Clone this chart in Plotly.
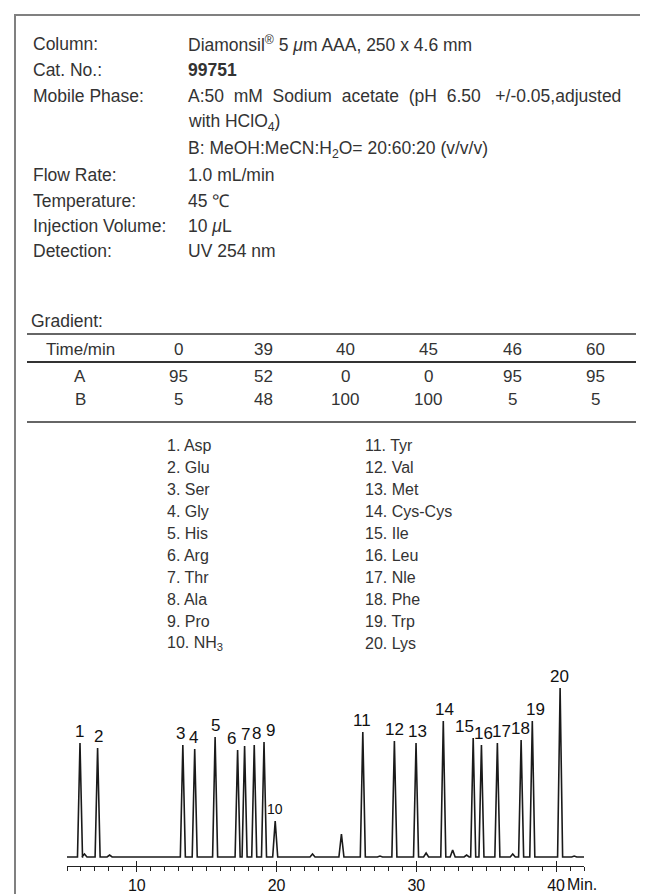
import plotly.graph_objects as go

# ---- method conditions ----
cond_labels = ['Column:', 'Cat. No.:', 'Mobile Phase:', '', '', 'Flow Rate:',
               'Temperature:', 'Injection Volume:', 'Detection:']
cond_values = ['Diamonsil<sup>®</sup> 5 <i>μ</i>m AAA, 250 x 4.6 mm',
               '<b>99751</b>',
               'A:50\u00a0 mM\u00a0 Sodium\u00a0 acetate\u00a0 (pH\u00a0 6.50\u00a0\u00a0 +/-0.05,adjusted',
               'with HClO<sub>4</sub>)',
               'B: MeOH:MeCN:H<sub>2</sub>O= 20:60:20 (v/v/v)',
               '1.0 mL/min',
               '45 ℃',
               '10 <i>μ</i>L',
               'UV 254 nm']

# ---- gradient table ----
grad_time = ['0', '39', '40', '45', '46', '60']
grad_a = ['95', '52', '0', '0', '95', '95']
grad_b = ['5', '48', '100', '100', '5', '5']

# ---- peak names ----
compounds = ['Asp', 'Glu', 'Ser', 'Gly', 'His', 'Arg', 'Thr', 'Ala', 'Pro', 'NH<sub>3</sub>',
             'Tyr', 'Val', 'Met', 'Cys-Cys', 'Ile', 'Leu', 'Nle', 'Phe', 'Trp', 'Lys']

# ---- chromatogram (retention time in min, height in arbitrary units) ----
peak_rt = [5.93, 7.19, 13.29, 14.14, 15.6, 17.21, 17.71, 18.4, 19.1, 19.9,
           26.17, 28.43, 29.98, 31.93, 34.07, 34.66, 35.8, 37.5, 38.3, 40.29]
peak_h = [114, 109, 112, 108, 120, 107, 111, 112, 115, 36,
          125, 116, 114, 136, 119, 112, 114, 117, 136, 169]
label_dx = [0, 1, -2, -1, 0, -6, 1, 2, 6, 0,
            -1, 0, 1, 1, -9, 2, 4, -1, 3, -1]
minor_rt = [6.25, 8.05, 22.57, 24.64, 27.4, 30.7, 32.6, 33.6, 36.9, 41.3]
minor_h = [3, 2, 3, 23, 1, 4, 7, 2, 3, 1]

W, H = 648, 894
FONT = 'Liberation Sans'
TXT = '#333333'


def px(x):
    return x / W


def py(y):
    return 1 - y / H


# build the trace as baseline -> apex -> baseline for each peak
half = 0.18
all_peaks = sorted(zip(peak_rt + minor_rt, peak_h + minor_h))
xs, ys = [5], [0]
for rt, h in all_peaks:
    xs += [rt - half, rt, rt + half]
    ys += [0, h, 0]
xs.append(42)
ys.append(0)

fig = go.Figure()
fig.add_trace(go.Scatter(x=xs, y=ys, mode='lines',
                         line=dict(color='#1a1a1a', width=1.6),
                         hoverinfo='skip', showlegend=False))
fig.add_trace(go.Scatter(x=[None], y=[None], xaxis='x3', yaxis='y',
                         showlegend=False, hoverinfo='skip'))

ann = []
# conditions
row_y = [36, 62, 88, 115, 142, 167, 193, 218, 243]
for lab, val, y in zip(cond_labels, cond_values, row_y):
    if lab:
        ann.append(dict(x=px(23), y=py(y), text=lab, xanchor='left', font=dict(size=17.5)))
    ann.append(dict(x=px(178), y=py(y), text=val, xanchor='left', font=dict(size=17.5)))

ann.append(dict(x=px(21), y=py(313), text='Gradient:', xanchor='left', font=dict(size=17.5)))

col_x = [72, 170, 255, 337, 420, 504, 587]
for y, row in [(341, ['Time/min'] + grad_time), (368, ['A'] + grad_a), (392, ['B'] + grad_b)]:
    for x, t in zip(col_x, row):
        ann.append(dict(x=px(x), y=py(y), text=t, xanchor='center'))

# compound list
for i, name in enumerate(compounds):
    cx = 157 if i < 10 else 355
    cy = 437 + 22.1 * (i % 10)
    ann.append(dict(x=px(cx), y=py(cy), text=f'{i + 1}. {name}', xanchor='left',
                    font=dict(size=16)))

for a in ann:
    a.update(xref='paper', yref='paper', showarrow=False, yanchor='middle')
    a.setdefault('font', dict(size=17))

# peak numbers
for i, (rt, h) in enumerate(zip(peak_rt, peak_h)):
    ann.append(dict(x=rt, y=h, xref='x', yref='y', text=str(i + 1), showarrow=False,
                    yanchor='middle', yshift=12, xshift=label_dx[i],
                    font=dict(size=14 if i == 9 else 17, color='#111')))

ann.append(dict(x=40, y=-9, xref='x', yref='y', text='Min.', showarrow=False,
                xanchor='left', yanchor='top', xshift=9, yshift=-8,
                font=dict(size=16, color='#111')))

shapes = [
    dict(type='rect', xref='paper', yref='paper', x0=px(7), x1=px(700), y0=py(7), y1=py(950),
         line=dict(color='#808080', width=2)),
]
for y, w in [(326, 1.6), (354, 2.2), (414, 1.6)]:
    shapes.append(dict(type='line', xref='paper', yref='paper', x0=px(19), x1=px(628),
                       y0=py(y), y1=py(y), line=dict(color='#333', width=w)))

fig.update_layout(
    width=W, height=H,
    margin=dict(l=0, r=0, t=0, b=0),
    paper_bgcolor='white', plot_bgcolor='white',
    font=dict(family=FONT, color=TXT, size=17),
    showlegend=False,
    annotations=ann,
    shapes=shapes,
    xaxis=dict(domain=[px(59), px(576)], range=[5, 42], anchor='y',
               showline=True, linecolor='#222', linewidth=1.3,
               ticks='outside', ticklen=5, tickwidth=1.2, tickcolor='#222',
               tickmode='linear', tick0=0, dtick=10,
               tickfont=dict(size=16, color='#111'),
               minor=dict(ticks='outside', ticklen=4, tickmode='linear', tick0=0, dtick=1,
                          tickcolor='#222', tickwidth=1.1, showgrid=False),
               showgrid=False, zeroline=False, fixedrange=True),
    xaxis3=dict(overlaying='x', anchor='y', range=[5, 42], side='bottom',
                ticks='inside', ticklen=5, tickwidth=1.2, tickcolor='#222',
                tickmode='linear', tick0=0, dtick=10, showticklabels=False,
                showline=False, showgrid=False, zeroline=False),
    yaxis=dict(domain=[py(858), py(650)], range=[-9, 199], visible=False, fixedrange=True),
)

fig.write_html('out.html')
